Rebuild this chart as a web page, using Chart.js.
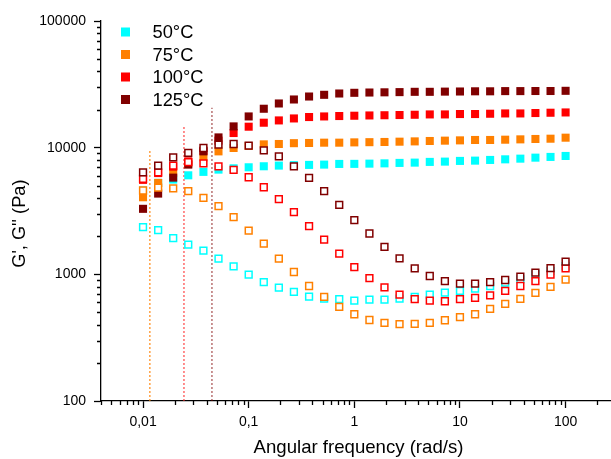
<!DOCTYPE html>
<html><head><meta charset="utf-8">
<script src="https://cdn.jsdelivr.net/npm/chart.js@4.4.0/dist/chart.umd.min.js"></script>
<style>html,body{margin:0;padding:0;overflow:hidden;background:#fff;}canvas{display:block;}</style>
</head><body>
<canvas id="c" width="625" height="459" style="width:625px;height:459px"></canvas>
<script>
// ---- data ----
const frequency = [0.01, 0.0139, 0.0193, 0.0268, 0.0373, 0.0518, 0.0720, 0.1, 0.139, 0.193, 0.268, 0.373, 0.518, 0.720, 1, 1.39, 1.93, 2.68, 3.73, 5.18, 7.20, 10, 13.9, 19.3, 26.8, 37.3, 51.8, 72.0, 100];
const temperatures = ['50°C', '75°C', '100°C', '125°C'];
const storage50 = [4585, 5270, 5600, 6050, 6440, 6710, 6870, 7000, 7130, 7220, 7280, 7310, 7350, 7440, 7450, 7480, 7520, 7580, 7620, 7720, 7760, 7860, 7900, 8000, 8090, 8190, 8340, 8450, 8600];
const storage75 = [4060, 5270, 6360, 7480, 8390, 9350, 9950, 10310, 10620, 10690, 10850, 10890, 10950, 10950, 11010, 11050, 11090, 11150, 11210, 11290, 11360, 11420, 11500, 11500, 11560, 11630, 11710, 11770, 11990];
const storage100 = [5570, 6300, 7080, 7800, 9470, 11360, 13050, 14640, 15740, 16410, 17010, 17450, 17640, 17770, 17870, 17960, 18030, 18100, 18190, 18300, 18300, 18430, 18430, 18530, 18630, 18630, 18770, 18870, 18970];
const storage125 = [3290, 4340, 5800, 7350, 9350, 12050, 14720, 17640, 20290, 22330, 24010, 25340, 26140, 26770, 27110, 27250, 27350, 27450, 27600, 27600, 27700, 27760, 27860, 27860, 27960, 27960, 28010, 28010, 28110];
const loss50 = [2360, 2230, 1930, 1714, 1538, 1330, 1156, 995, 869, 786, 726, 667, 644, 636, 621, 632, 632, 644, 664, 692, 718, 739, 772, 809, 859, 914, 1000, 1062, 1162];
const loss75 = [4590, 4840, 4780, 4530, 4020, 3450, 2830, 2210, 1745, 1330, 1043, 809, 664, 553, 484, 436, 414, 404, 406, 414, 434, 459, 484, 533, 584, 639, 713, 795, 908];
const loss100 = [5670, 6390, 7220, 7700, 7520, 7130, 6670, 5840, 4870, 3920, 3100, 2400, 1876, 1456, 1141, 935, 790, 692, 636, 621, 613, 636, 651, 683, 739, 809, 885, 995, 1115];
const loss125 = [6390, 7220, 8390, 9080, 9940, 10560, 10690, 10370, 9520, 8540, 7130, 5770, 4530, 3540, 2680, 2100, 1650, 1336, 1115, 970, 885, 845, 845, 869, 902, 959, 1031, 1121, 1259];
const crossoverFreq = [0.0116, 0.0244, 0.0449];
const crossoverTop = [9460, 14900, 20650];
const xTickValues = [0.01, 0.1, 1, 10, 100];
const xTickLabels = ['0,01', '0,1', '1', '10', '100'];
const yTickValues = [100, 1000, 10000, 100000];
const yTickLabels = ['100', '1000', '10000', '100000'];
const xRange = [0.004, 300];
const yRange = [100, 100000];

// ---- styles ----
const seriesColors = ['#00FFFF', '#FF8000', '#FF0000', '#800000'];
const dotColors = ['rgba(255,128,0,0.8)', 'rgba(255,40,40,0.75)', 'rgba(128,0,0,0.6)'];
const FONT = '"Liberation Sans", Arial, sans-serif';

function minorTicks(lo, hi) {
  const out = [];
  for (let d = Math.floor(Math.log10(lo)); d <= Math.ceil(Math.log10(hi)); d++) {
    for (let m = 2; m <= 9; m++) {
      const v = m * Math.pow(10, d);
      if (v >= lo * 0.999 && v <= hi * 1.001) out.push(v);
    }
  }
  return out;
}
const xMinor = minorTicks(xRange[0], xRange[1]);
const yMinor = minorTicks(yRange[0], yRange[1]);

const pts = (arr) => arr.map((v, i) => ({x: frequency[i], y: v}));
const storage = [storage50, storage75, storage100, storage125];
const loss = [loss50, loss75, loss100, loss125];

const datasets = [];
storage.forEach((arr, i) => datasets.push({
  label: "G' " + temperatures[i], data: pts(arr), showLine: false,
  pointStyle: 'rect', pointRadius: 5.7, pointBorderWidth: 0,
  pointBackgroundColor: seriesColors[i], pointBorderColor: seriesColors[i], order: 8 - i
}));
loss.forEach((arr, i) => datasets.push({
  label: "G'' " + temperatures[i], data: pts(arr), showLine: false,
  pointStyle: 'rect', pointRadius: 4.8, pointBorderWidth: 1.5,
  pointBackgroundColor: '#FFFFFF', pointBorderColor: seriesColors[i], order: 4 - i
}));
crossoverFreq.forEach((f, i) => datasets.push({
  label: 'crossover ' + temperatures[i + 1], data: [{x: f, y: yRange[0]}, {x: f, y: crossoverTop[i]}],
  showLine: true, borderColor: dotColors[i], borderWidth: 1.4, borderDash: [2, 2],
  pointRadius: 0, order: 20
}));

const tickPlugin = {
  id: 'minorTicks',
  afterDraw(chart) {
    const ctx = chart.ctx, xs = chart.scales.x, ys = chart.scales.y;
    ctx.save();
    ctx.strokeStyle = '#000'; ctx.lineWidth = 1.3;
    ctx.beginPath();
    xMinor.forEach(v => { const p = Math.round(xs.getPixelForValue(v)) + 0.5; ctx.moveTo(p, xs.top); ctx.lineTo(p, xs.top + 4); });
    yMinor.forEach(v => { const p = Math.round(ys.getPixelForValue(v)) + 0.5; ctx.moveTo(ys.right - 4, p); ctx.lineTo(ys.right, p); });
    ctx.stroke();
    ctx.restore();
  }
};
const legendPlugin = {
  id: 'tempLegend',
  afterDatasetsDraw(chart) {
    const ctx = chart.ctx, a = chart.chartArea;
    ctx.save();
    ctx.font = '18.3px ' + FONT;
    ctx.textBaseline = 'middle';
    temperatures.forEach((t, i) => {
      const y = a.top + 11 + i * 22.5;
      const x = a.left + 24.5;
      ctx.fillStyle = seriesColors[i];
      ctx.fillRect(x - 4.5, y - 4.5, 9, 9);
      ctx.fillStyle = '#000';
      ctx.fillText(t, a.left + 51.5, y + 1);
    });
    ctx.restore();
  }
};

new Chart(document.getElementById('c'), {
  type: 'scatter',
  data: {datasets},
  options: {
    responsive: false, animation: false,
    layout: {padding: {top: 21, right: 9, left: 0, bottom: 0}},
    plugins: {legend: {display: false}, tooltip: {enabled: false}},
    scales: {
      x: {
        type: 'logarithmic', min: xRange[0], max: xRange[1],
        afterBuildTicks(s) { s.ticks = xTickValues.map(v => ({value: v})); },
        afterFit(s) { s.height = 58; },
        ticks: {autoSkip: false, maxRotation: 0, padding: 6, color: '#000',
          font: {family: FONT, size: 14},
          callback(v) { const k = xTickValues.indexOf(v); return k >= 0 ? xTickLabels[k] : ''; }},
        grid: {drawOnChartArea: false, drawTicks: true, tickLength: 7, tickColor: '#000', tickWidth: 1.3},
        border: {display: true, color: '#000', width: 1.3},
        title: {display: true, text: 'Angular frequency (rad/s)', color: '#000',
          font: {family: FONT, size: 18.6}, padding: {top: 0, bottom: 0}}
      },
      y: {
        type: 'logarithmic', min: yRange[0], max: yRange[1],
        afterBuildTicks(s) { s.ticks = yTickValues.map(v => ({value: v})); },
        afterFit(s) { s.width = 101; },
        ticks: {autoSkip: false, padding: 8, color: '#000',
          font: {family: FONT, size: 14},
          callback(v) { const k = yTickValues.indexOf(v); return k >= 0 ? yTickLabels[k] : ''; }},
        grid: {drawOnChartArea: false, drawTicks: true, tickLength: 7, tickColor: '#000', tickWidth: 1.3},
        border: {display: true, color: '#000', width: 1.3},
        title: {display: true, text: "G', G'' (Pa)     ", color: '#000',
          font: {family: FONT, size: 18.2}, padding: {top: 9, bottom: 0}}
      }
    }
  },
  plugins: [tickPlugin, legendPlugin]
});
</script>
</body></html>
